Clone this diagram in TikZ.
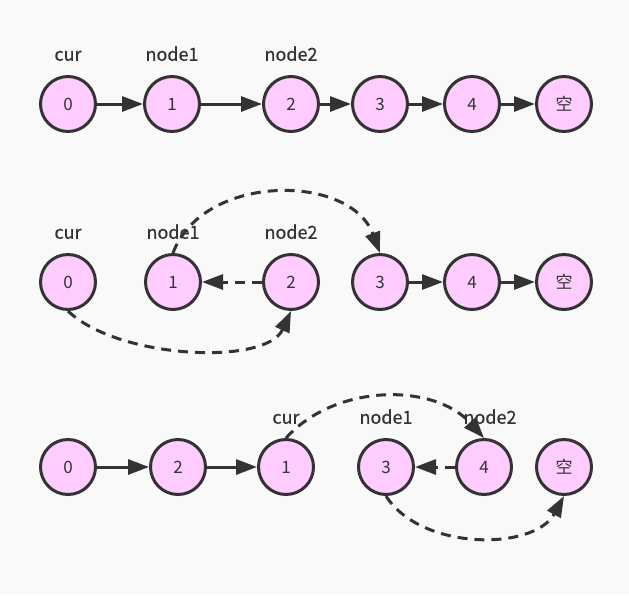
\documentclass[tikz,border=0pt]{standalone}
\usepackage{fontspec}
\setmainfont{Noto Sans CJK SC}
\newfontfamily\lblfont[FakeBold=0.6]{Noto Sans CJK SC}
\usetikzlibrary{arrows.meta,positioning}
\definecolor{bg}{HTML}{F9F9F9}
\definecolor{ink}{HTML}{333333}
\definecolor{pinkfill}{HTML}{FFCCFF}

\begin{document}
\begin{tikzpicture}[x=1pt,y=-1pt,
    elem/.style={circle, draw=ink, fill=pinkfill, line width=3pt, minimum size=55pt, inner sep=0pt, text=ink, font=\fontsize{17}{20}\selectfont},
    lbl/.style={inner sep=0pt, text height=12pt, text depth=0pt, text=ink, font=\lblfont\fontsize{18}{20}\selectfont},
    link/.style={draw=ink, line width=3pt, -{Triangle[length=21pt,width=15pt]}},
    relink/.style={link, dash pattern=on 10pt off 7pt}]
        \useasboundingbox[fill=bg] (0,0) rectangle (629,595);

        % first row
        \node[elem] (a0) at (68,104) {0};
        \node[elem] (a1) at (172,104) {1};
        \node[elem] (a2) at (291,104) {2};
        \node[elem] (a3) at (380,104) {3};
        \node[elem] (a4) at (472,104) {4};
        \node[elem] (a5) at (564,104) {空};
        \node[lbl, above=14pt of a0] (acur) {cur};
        \node[lbl, above=14pt of a1] (anode1) {node1};
        \node[lbl, above=14pt of a2] (anode2) {node2};
        \draw[link] (a0) -- (a1);
        \draw[link] (a1) -- (a2);
        \draw[link] (a2) -- (a3);
        \draw[link] (a3) -- (a4);
        \draw[link] (a4) -- (a5);

        % second row
        \node[elem] (b0) at (68,282) {0};
        \node[elem] (b1) at (173,282) {1};
        \node[elem] (b2) at (291,282) {2};
        \node[elem] (b3) at (380,282) {3};
        \node[elem] (b4) at (472,282) {4};
        \node[elem] (b5) at (564,282) {空};
        \node[lbl, above=14pt of b0] (bcur) {cur};
        \node[lbl, above=14pt of b1] (bnode1) {node1};
        \node[lbl, above=14pt of b2] (bnode2) {node2};
        \draw[relink] (b2) -- (b1);
        \draw[relink] (b1.north) .. controls +(30,-80) and +(-30,-80) .. (b3.north);
        \draw[relink] (b0.south) .. controls +(50,48) and +(-25,55) .. (b2.south);
        \draw[link] (b3) -- (b4);
        \draw[link] (b4) -- (b5);

        % third row
        \node[elem] (c0) at (68,467) {0};
        \node[elem] (c2) at (178,467) {2};
        \node[elem] (c1) at (286,467) {1};
        \node[elem] (c3) at (386,467) {3};
        \node[elem] (c4) at (484,467) {4};
        \node[elem] (c5) at (564,467) {空};
        \node[lbl, above=14pt of c1] (ccur) {cur};
        \node[lbl, above=14pt of c3] (cnode1) {node1};
        \node[lbl, above=14pt of c4, xshift=6pt] (cnode2) {node2};
        \draw[link] (c0) -- (c2);
        \draw[link] (c2) -- (c1);
        \draw[relink] (c4) -- (c3);
        \draw[relink] (c1.north) .. controls +(50,-55) and +(-50,-55) .. (c4.north);
        \draw[relink] (c3.south) .. controls +(35,55) and +(-30,55) .. (c5.south);
    \end{tikzpicture}
\end{document}
